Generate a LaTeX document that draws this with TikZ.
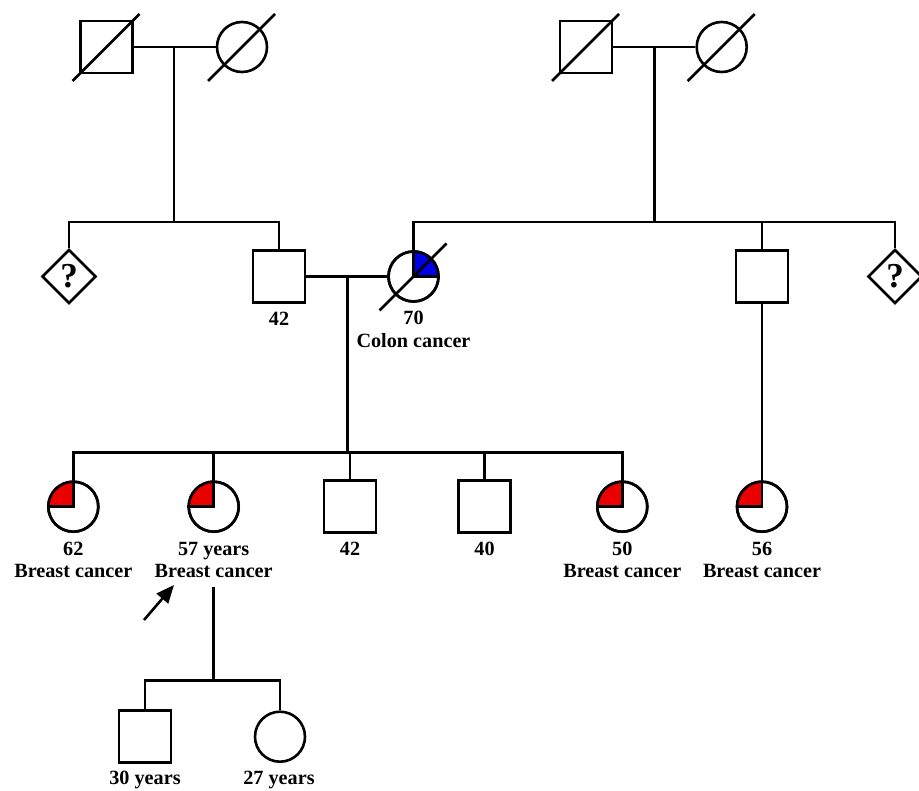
\documentclass[tikz,border=0pt]{standalone}
\usepackage{fontspec}
\setmainfont{Liberation Serif}
\usetikzlibrary{shapes.geometric,arrows.meta}
\definecolor{affblue}{RGB}{0,0,230}
\definecolor{affred}{RGB}{235,0,0}
\begin{document}
\begin{tikzpicture}[x=1pt,y=1pt,line width=2.6pt,
  male/.style={draw,rectangle,minimum size=52pt,inner sep=0pt,fill=white},
  female/.style={draw,circle,minimum size=50pt,inner sep=0pt,fill=white},
  unknown/.style={draw,diamond,minimum size=54pt,inner sep=0pt,fill=white,
    font=\fontsize{35}{36}\selectfont\bfseries},
  num/.style={anchor=base,inner sep=0pt,font=\fontsize{20.2}{22}\selectfont\bfseries},
  txt/.style={anchor=base,inner sep=0pt,font=\fontsize{20.2}{22}\selectfont\bfseries},
  link/.style={line width=2.6pt},
  dead/.style={line width=2.6pt}]
\useasboundingbox (0,0) rectangle (919,-791);

% Generation I
\node[male]   (I1) at (106.5,-47) {};
\node[female] (I2) at (242,-47) {};
\node[male]   (I3) at (586,-47) {};
\node[female] (I4) at (721.7,-47) {};
\coordinate (m1) at (174,-47);
\coordinate (m2) at (654.3,-47);
\draw[link] (I1.east) -- (I2.west);
\draw[link] (I3.east) -- (I4.west);

% Generation II
\node[unknown] (II1) at (69,-276.5) {?};
\node[male]    (II2) at (279,-276.5) {};
\node[female]  (II3) at (413.5,-276.5) {};
\node[male]    (II4) at (762,-276.5) {};
\node[unknown] (II5) at (895,-276.5) {?};
\coordinate (s1) at (174,-222);
\coordinate (s2) at (654.3,-222);
\coordinate (m3) at (347.7,-276.5);
\draw[link] (m1) -- (s1);
\draw[link] (II1.north) -- (II1.north |- s1) -- (II2.north |- s1) -- (II2.north);
\draw[link] (m2) -- (s2);
\draw[link] (II3.north) -- (II3.north |- s2) -- (II5.north |- s2) -- (II5.north);
\draw[link] (II4.north) -- (II4.north |- s2);
\draw[link] (II2.east) -- (II3.west);

% blue quarter
\fill[affblue] (II3.center) -- (II3.north) arc[start angle=90,end angle=0,radius=25pt] -- cycle;
\draw (II3.north) -- (II3.center) -- (II3.east);
\draw (II3.center) circle[radius=25pt];

% deceased marks
\foreach \n in {I1,I2,I3,I4,II3}{
  \draw[dead] ([shift={(-34pt,-34pt)}]\n.center) -- ([shift={(33pt,33pt)}]\n.center);
}

\node[num] (l42a) at (279,-326) {42};
\node[num] (l70) at (413.5,-325) {70};
\node[txt] (lcolon) at (413.5,-347.5) {Colon cancer};

% Generation III
\coordinate (s3) at (347.7,-452.3);
\node[female] (III1) at (73.3,-506.7) {};
\node[female] (III2) at (213.7,-506.7) {};
\node[male]   (III3) at (350,-506.7) {};
\node[male]   (III4) at (484.5,-506.7) {};
\node[female] (III5) at (622.3,-506.7) {};
\node[female] (III6) at (762,-506.7) {};
\draw[link] (m3) -- (s3);
\draw[link] (III1.north) -- (III1.north |- s3) -- (III5.north |- s3) -- (III5.north);
\draw[link] (III2.north) -- (III2.north |- s3);
\draw[link] (III3.north) -- (III3.north |- s3);
\draw[link] (III4.north) -- (III4.north |- s3);
\draw[link] (II4.south) -- (III6.north);

\foreach \n in {III1,III2,III5,III6}{
  \fill[affred] (\n.center) -- (\n.north) arc[start angle=90,end angle=180,radius=25pt] -- cycle;
  \draw (\n.north) -- (\n.center) -- (\n.west);
  \draw (\n.center) circle[radius=25pt];
}

\node[num] (l62) at (73.3,-555) {62};
\node[txt] (lb1) at (73.3,-577.5) {Breast cancer};
\node[num] (l57) at (213.7,-555) {57 years};
\node[txt] (lb2) at (213.7,-577.5) {Breast cancer};
\node[num] (l42b) at (350,-555) {42};
\node[num] (l40) at (484.5,-555) {40};
\node[num] (l50) at (622.3,-555) {50};
\node[txt] (lb5) at (622.3,-577.5) {Breast cancer};
\node[num] (l56) at (762,-555) {56};
\node[txt] (lb6) at (762,-577.5) {Breast cancer};

% proband arrow
\coordinate (pt) at (144,-620);
\coordinate (ph) at (174,-585);
\draw[line width=2.6pt,-{Triangle[length=18pt,width=15pt]}] (pt) -- (ph);

% Generation IV
\coordinate (d4) at (213.7,-587.3);
\coordinate (s4) at (213.7,-680.7);
\node[male]   (IV1) at (145,-736.3) {};
\node[female] (IV2) at (280,-736.7) {};
\draw[link] (d4) -- (s4);
\draw[link] (IV1.north) -- (IV1.north |- s4) -- (IV2.north |- s4) -- (IV2.north);
\node[num] (l30) at (145,-784) {30 years};
\node[num] (l27) at (279,-784) {27 years};
\end{tikzpicture}
\end{document}
